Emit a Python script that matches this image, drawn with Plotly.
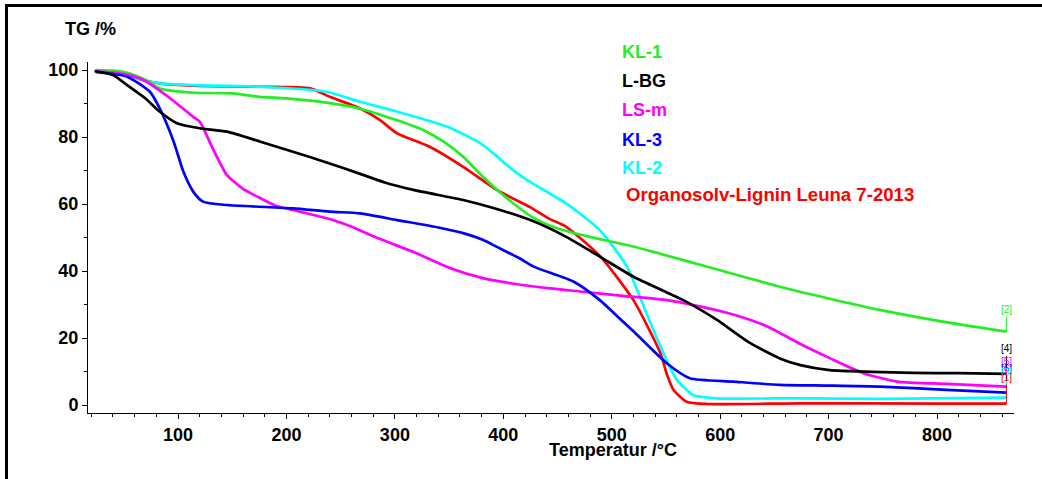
import plotly.graph_objects as go

# ---- data (temperature in °C, TG in %) ----
kl1_T = [24, 40, 55, 70, 83, 100, 115, 150, 175, 200, 240, 270, 300, 326, 345, 363, 380, 395, 410, 427, 445, 460, 480, 520, 580, 655, 700, 747, 800, 864]
kl1_G = [100, 99.8, 99, 97, 94.5, 93.6, 93.2, 93.0, 92.0, 91.5, 90.1, 88.3, 85.2, 82.1, 78.6, 74.1, 68.5, 64, 60, 56, 53.3, 51.8, 50.2, 47.3, 42, 35.3, 31.8, 28.4, 25.2, 21.9]

lbg_T = [23, 40, 53, 70, 83, 99, 120, 145, 176, 206, 237, 268, 290, 317, 363, 394, 425, 458, 489, 520, 566, 597, 627, 655, 674, 701, 740, 778, 820, 864]
lbg_G = [99.7, 98.5, 95.5, 91.5, 87.6, 84.1, 82.6, 81.6, 78.6, 75.6, 72.4, 69, 66.5, 64.2, 61.2, 58.5, 55.2, 50.2, 44.3, 38.3, 31.3, 25.4, 18.6, 13.9, 11.9, 10.4, 9.9, 9.6, 9.5, 9.3]

lsm_T = [25, 50, 68, 93, 114, 120, 132, 145, 160, 176, 190, 206, 240, 260, 286, 320, 350, 382, 410, 443, 474, 510, 551, 580, 612, 643, 674, 701, 732, 763, 809, 864]
lsm_G = [99.6, 98.8, 97, 91.5, 86, 84.6, 76.6, 68.7, 64.5, 61.7, 59.5, 58.2, 55.5, 53.2, 49.6, 45.3, 41, 37.8, 36.2, 34.8, 33.8, 32.6, 31.3, 29.5, 27.0, 23.5, 18.2, 14.0, 9.5, 7.0, 6.3, 5.5]

kl3_T = [24, 53, 74, 83, 96, 105, 114, 123, 145, 206, 240, 268, 302, 340, 363, 381, 394, 415, 428, 465, 489, 505, 520, 551, 572, 612, 655, 700, 747, 809, 864]
kl3_G = [99.4, 98, 93.5, 88.6, 78.6, 69.6, 63.7, 60.7, 59.7, 58.7, 57.7, 57.2, 55.2, 53, 51.3, 49.3, 47.2, 43.8, 41.3, 36.8, 31.3, 26.5, 22.0, 12.4, 8.0, 7.0, 6.0, 5.8, 5.5, 4.5, 3.7]

kl2_T = [24, 50, 68, 83, 114, 176, 237, 268, 302, 348, 379, 395, 409, 425, 458, 489, 514, 535, 554, 560, 575, 597, 674, 750, 864]
kl2_G = [99.7, 98.8, 97, 96, 95.5, 95, 93.5, 90.5, 87.6, 83.1, 78.1, 74, 70.1, 66.5, 60.2, 52.2, 41.3, 25, 11, 7.5, 3.0, 2.0, 2.0, 1.8, 2.2]

org_T = [24, 50, 68, 83, 114, 176, 222, 240, 268, 286, 302, 332, 363, 394, 425, 443, 458, 489, 520, 545, 551, 557, 569, 588, 674, 800, 864]
org_G = [99.7, 98.8, 97, 96, 95.3, 95, 94.5, 92, 88.5, 85.1, 81.1, 77.1, 71.1, 64.2, 59, 55.5, 53.2, 44.5, 31.3, 15.4, 9, 4.5, 1.0, 0.3, 0.5, 0.4, 0.4]

names = ["KL-1", "L-BG", "LS-m", "KL-3", "KL-2", "Organosolv-Lignin Leuna 7-2013"]
colors = ["#22ee22", "#000000", "#ff00ff", "#0000ff", "#00ffff", "#ff0000"]
end_tags = ["[2]", "[4]", "[5]", "[6]", "[3]", "[1]"]
series = [(kl1_T, kl1_G), (lbg_T, lbg_G), (lsm_T, lsm_G), (kl3_T, kl3_G), (kl2_T, kl2_G), (org_T, org_G)]

x_ticks = [100, 200, 300, 400, 500, 600, 700, 800]
y_ticks = [0, 20, 40, 60, 80, 100]

W, H = 1042, 479
L, R, T, B = 88, 28, 62, 66
PW, PH = W - L - R, H - T - B


def px(xp):
    return (xp - L) / PW


def py(yp):
    return (H - B - yp) / PH


FONT = "Liberation Sans, Arial, sans-serif"

fig = go.Figure()
draw_order = [5, 4, 0, 2, 3, 1]
for i in draw_order:
    xs, ys = series[i]
    fig.add_trace(go.Scatter(x=xs, y=ys, mode="lines", name=names[i],
                             line=dict(color=colors[i], width=2.7, shape="spline", smoothing=0.6),
                             showlegend=False, hoverinfo="skip"))

annotations = []
# legend-like coloured labels
leg_y = [52, 81, 110, 140, 168, 194]
leg_x = [620, 620, 620, 620, 620, 624]
leg_size = [18, 18, 18, 18, 18, 18.6]
for i in range(6):
    annotations.append(dict(text=names[i], xref="paper", yref="paper", x=px(leg_x[i]), y=py(leg_y[i]),
                            xanchor="left", yanchor="middle", showarrow=False,
                            font=dict(family=FONT, size=leg_size[i], color=colors[i], weight="bold")))

# end-of-curve markers
end_ay = [-22, -25, -25, -24, -25, -26]
for i in range(6):
    xs, ys = series[i]
    annotations.append(dict(text=end_tags[i], x=xs[-1], y=ys[-1], xref="x", yref="y",
                            showarrow=True, arrowhead=0, arrowwidth=1, arrowcolor=colors[i],
                            ax=0, ay=end_ay[i], standoff=0,
                            font=dict(family=FONT, size=10, color=colors[i])))

# axis titles
annotations.append(dict(text="TG /%", xref="paper", yref="paper", x=px(63), y=py(29),
                        xanchor="left", yanchor="middle", showarrow=False,
                        font=dict(family=FONT, size=18, color="black", weight="bold")))
annotations.append(dict(text="Temperatur /°C", xref="paper", yref="paper", x=px(613), y=py(450),
                        xanchor="center", yanchor="middle", showarrow=False,
                        font=dict(family=FONT, size=18, color="black", weight="bold")))

x0 = (L - 69.6) / 1.0843
x1 = (W - R - 69.6) / 1.0843
y0 = (405 - (H - B)) / 3.35
y1 = (405 - T) / 3.35

fig.update_layout(
    width=W, height=H,
    margin=dict(l=L, r=R, t=T, b=B, autoexpand=False),
    plot_bgcolor="white", paper_bgcolor="white",
    annotations=annotations,
    shapes=[
        dict(type="line", xref="paper", yref="paper", x0=px(6.5), x1=px(6.5), y0=py(4), y1=py(H + 5),
             line=dict(color="black", width=3)),
        dict(type="line", xref="paper", yref="paper", x0=px(5), x1=px(W + 5), y0=py(5.5), y1=py(5.5),
             line=dict(color="black", width=3)),
    ],
    xaxis=dict(range=[x0, x1], tickvals=x_ticks, ticktext=[str(v) for v in x_ticks],
               showgrid=False, zeroline=False, showline=True, linecolor="black", linewidth=1,
               ticks="outside", ticklen=5, tickcolor="black", tickwidth=1,
               minor=dict(dtick=20, tick0=0, ticks="outside", ticklen=3, tickcolor="black", showgrid=False),
               tickfont=dict(family=FONT, size=18, color="black", weight="bold")),
    yaxis=dict(range=[y0, y1], tickvals=y_ticks, ticktext=[str(v) for v in y_ticks],
               showgrid=False, zeroline=False, showline=True, linecolor="black", linewidth=1,
               ticks="outside", ticklen=5, tickcolor="black", tickwidth=1,
               minor=dict(dtick=10, tick0=0, ticks="outside", ticklen=3, tickcolor="black", showgrid=False),
               tickfont=dict(family=FONT, size=18, color="black", weight="bold")),
)

fig.write_html("out.html", config={"displayModeBar": False},
               post_script="document.body.style.margin='0';document.body.style.overflow='hidden';")
